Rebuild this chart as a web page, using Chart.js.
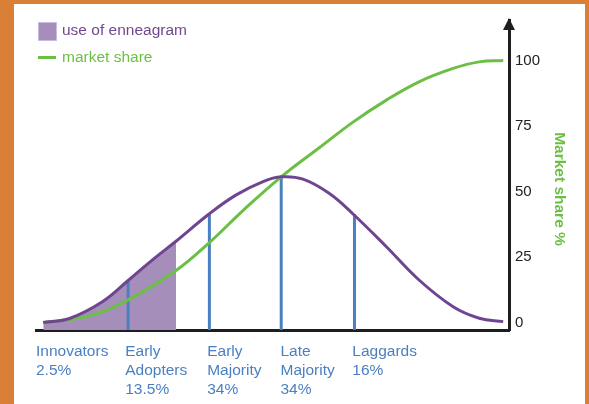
<!DOCTYPE html>
<html>
<head>
<meta charset="utf-8">
<script src="https://cdn.jsdelivr.net/npm/chart.js@4"></script>
<style>
  html, body { margin: 0; padding: 0; }
  body { width: 589px; height: 404px; background: #d98036; position: relative; overflow: hidden;
         font-family: "Liberation Sans", Arial, Helvetica, sans-serif; }
  #panel { position: absolute; left: 14px; top: 4px; width: 571px; height: 400px; background: #fff; }
  #legend { position: absolute; left: 24px; top: 16px; font-size: 15.5px; }
  .item { position: relative; height: 27px; }
  .box { position: absolute; left: 0; top: 2px; width: 17px; height: 17px; background: #a58fba; border: 1px solid #cbbcd9; }
  .dash { position: absolute; left: 0; top: 9px; width: 18px; height: 3px; background: #6cbf45; }
  .txt { position: absolute; left: 24px; top: 1px; white-space: nowrap; }
</style>
</head>
<body>
<div id="panel">
  <canvas id="curva" width="571" height="400"></canvas>
  <div id="legend">
    <div class="item"><span class="box"></span><span class="txt" style="color:#70488f">use of enneagram</span></div>
    <div class="item"><span class="dash"></span><span class="txt" style="color:#6cbf45">market share</span></div>
  </div>
</div>
<script>
// curva de campana (uso de enneagram), x en desviaciones estandar
const campanaX = [-3.28, -2.92, -2.46, -2.11, -1.77, -1.45, -0.99, -0.62, -0.25, 0, 0.30, 0.66, 0.99, 1.45, 1.90, 2.37, 2.73, 3.06];
const campana = [0, 1.5, 8.0, 16.0, 24.0, 31.0, 41.5, 48.7, 53.8, 55.6, 54.7, 49.3, 41.4, 28.9, 16.2, 6.0, 1.6, 0.3];
// curva S (market share)
const mercadoX = [-3.28, -2.69, -2.11, -1.45, -0.99, -0.52, 0, 0.52, 0.99, 1.45, 1.90, 2.37, 2.73, 3.06];
const mercado = [0, 2.2, 8.6, 19.8, 30.5, 42.9, 55.6, 66.6, 76.5, 84.9, 91.9, 97.0, 99.5, 100];
// limite del area sombreada
const limiteSombra = -1.45;
// lineas azules verticales y su altura
const lineasX = [-2.11, -0.99, 0, 1.01];
const lineasAlto = [16.0, 41.5, 55.6, 41.4];
// etiquetas de categorias
const categoriasX = [-3.38, -2.15, -1.02, -0.01, 0.98];
const categorias = [
    ["Innovators", "2.5%"],
    ["Early", "Adopters", "13.5%"],
    ["Early", "Majority", "34%"],
    ["Late", "Majority", "34%"],
    ["Laggards", "16%"]
];
const yTicks = [0, 25, 50, 75, 100];

const yMin = -2.9;
const yMax = 115.5;
const fuente = '"Liberation Sans", Arial, Helvetica, sans-serif';

const puntos = (xs, vals) => xs.map((x, i) => ({x: x, y: vals[i]}));

const sombra = [];
campanaX.forEach((x, i) => {
    if (x <= limiteSombra) sombra.push({x: x, y: campana[i]});
});

const lineas = [];
lineasX.forEach((x, i) => {
    lineas.push({x: x, y: yMin});
    lineas.push({x: x, y: lineasAlto[i]});
    lineas.push({x: x, y: null});
});

// flecha del eje y y titulo del eje
const extras = {
    id: 'extras',
    afterDraw(chart) {
        const ctx = chart.ctx;
        const area = chart.chartArea;
        ctx.save();
        ctx.fillStyle = '#1e1e1e';
        ctx.beginPath();
        ctx.moveTo(area.right, area.top - 2);
        ctx.lineTo(area.right - 6, area.top + 10);
        ctx.lineTo(area.right + 6, area.top + 10);
        ctx.closePath();
        ctx.fill();

        ctx.translate(545, 185);
        ctx.rotate(Math.PI / 2);
        ctx.fillStyle = '#6cbf45';
        ctx.font = 'bold 15.5px ' + fuente;
        ctx.textAlign = 'center';
        ctx.textBaseline = 'middle';
        ctx.fillText('Market share %', 0, 0);
        ctx.restore();
    }
};

const config = {
    type: 'line',
    data: {
        datasets: [
            {
                label: 'use of enneagram',
                data: puntos(campanaX, campana),
                borderColor: '#6f4592',
                borderWidth: 3,
                pointRadius: 0,
                tension: 0.4,
                fill: false
            },
            {
                label: 'market share',
                data: puntos(mercadoX, mercado),
                borderColor: '#6cbf45',
                borderWidth: 3,
                pointRadius: 0,
                tension: 0.4,
                fill: false
            },
            {
                label: 'segmentos',
                data: lineas,
                borderColor: '#4a80c0',
                borderWidth: 3,
                borderCapStyle: 'butt',
                pointRadius: 0,
                tension: 0,
                spanGaps: false,
                fill: false
            },
            {
                label: 'sombra',
                data: sombra,
                borderWidth: 0,
                borderColor: 'rgba(0,0,0,0)',
                backgroundColor: '#a58fba',
                pointRadius: 0,
                tension: 0.4,
                fill: 'start'
            }
        ]
    },
    options: {
        responsive: false,
        animation: false,
        layout: { padding: { left: 22, top: 16, right: 0, bottom: 0 } },
        plugins: { legend: { display: false }, tooltip: { enabled: false } },
        scales: {
            x: {
                type: 'linear',
                min: -3.38,
                max: 3.14,
                grid: { display: false, drawTicks: false },
                border: { display: true, color: '#1e1e1e', width: 3 },
                afterBuildTicks: (scale) => { scale.ticks = categoriasX.map(v => ({value: v})); },
                afterFit: (scale) => { scale.height = 74; scale.paddingLeft = 0; scale.paddingRight = 0; },
                ticks: {
                    autoSkip: false,
                    maxRotation: 0,
                    minRotation: 0,
                    align: 'start',
                    padding: 12,
                    color: '#4a7fc0',
                    font: { family: fuente, size: 15.5, lineHeight: 1.22 },
                    callback: (value, index) => categorias[index]
                }
            },
            y: {
                position: 'right',
                min: yMin,
                max: yMax,
                grid: { display: false, drawTicks: false },
                border: { display: true, color: '#1e1e1e', width: 3 },
                afterBuildTicks: (scale) => { scale.ticks = yTicks.map(v => ({value: v})); },
                afterFit: (scale) => { scale.width = 76; },
                ticks: {
                    padding: 6,
                    color: '#222',
                    font: { family: fuente, size: 15 }
                }
            }
        }
    },
    plugins: [extras]
};

const grafico = new Chart(document.getElementById('curva'), config);
</script>
</body>
</html>
